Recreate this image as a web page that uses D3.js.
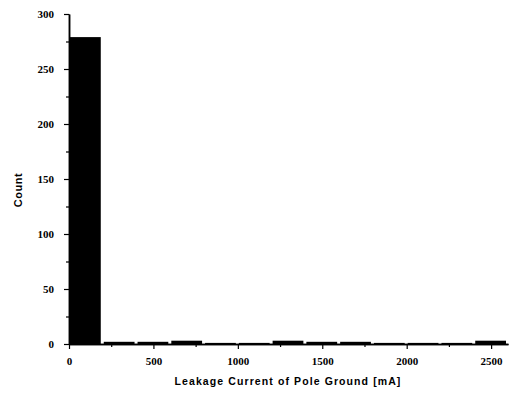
<!DOCTYPE html>
<html>
<head>
<meta charset="utf-8">
<script src="https://cdn.jsdelivr.net/npm/d3@7"></script>
<style>
  body { margin: 0; background: #fff; }
  svg { display: block; }
</style>
</head>
<body>
<svg width="513" height="396"></svg>
<script>
// histogram bins, 200 mA wide
var binStart = [0, 200, 400, 600, 800, 1000, 1200, 1400, 1600, 1800, 2000, 2200, 2400];
var counts = [279, 2, 2, 3, 1, 1, 3, 2, 2, 1, 1, 1, 3];
var binWidth = 200;
var xTicks = [0, 500, 1000, 1500, 2000, 2500];
var yTicks = [0, 50, 100, 150, 200, 250, 300];

var margin = {top: 14, left: 69, right: 5, bottom: 52};
var width = 513;
var height = 396;

var svg = d3.select('svg');

var xScale = d3.scaleLinear()
  .domain([0, 2600])
  .range([margin.left, width - margin.right]);

var yScale = d3.scaleLinear()
  .domain([0, 300])
  .range([height - margin.bottom, margin.top]);

// bars
svg.selectAll('rect.bar')
  .data(binStart)
  .enter()
  .append('rect')
  .attr('class', 'bar')
  .attr('x', d => xScale(d) + 1)
  .attr('y', (d, i) => yScale(counts[i]))
  .attr('width', d => xScale(d + binWidth) - xScale(d) - 3)
  .attr('height', (d, i) => yScale(0) - yScale(counts[i]))
  .attr('fill', '#000');

// minor ticks
var xMinor = d3.range(250, 2600, 500);
var yMinor = d3.range(25, 300, 50);

svg.append('g')
  .attr('transform', 'translate(0,' + yScale(0) + ')')
  .call(d3.axisBottom(xScale).tickValues(xTicks).tickFormat(d3.format('d'))
    .tickSize(5).tickPadding(8).tickSizeOuter(0));

svg.append('g')
  .attr('transform', 'translate(0,' + yScale(0) + ')')
  .call(d3.axisBottom(xScale).tickValues(xMinor).tickSize(3).tickFormat('').tickSizeOuter(0));

svg.append('g')
  .attr('transform', 'translate(' + margin.left + ',0)')
  .call(d3.axisLeft(yScale).tickValues(yTicks).tickFormat(d3.format('d'))
    .tickSize(5).tickPadding(10).tickSizeOuter(0));

svg.append('g')
  .attr('transform', 'translate(' + margin.left + ',0)')
  .call(d3.axisLeft(yScale).tickValues(yMinor).tickSize(3).tickFormat('').tickSizeOuter(0));

svg.selectAll('.domain').attr('stroke', '#000').attr('stroke-width', 1.5);
svg.selectAll('.tick line').attr('stroke', '#000').attr('stroke-width', 1.2);
svg.selectAll('.tick text')
  .attr('font-family', 'Liberation Serif')
  .attr('font-size', 11)
  .attr('font-weight', 'bold')
  .attr('fill', '#000');

// axis titles
svg.append('text')
  .attr('x', 288)
  .attr('y', 385)
  .attr('text-anchor', 'middle')
  .attr('font-family', 'Liberation Sans')
  .attr('font-weight', 'bold')
  .attr('font-size', 10.5)
  .attr('letter-spacing', 1.1)
  .text('Leakage Current of Pole Ground [mA]');

svg.append('text')
  .attr('transform', 'translate(22,190) rotate(-90)')
  .attr('text-anchor', 'middle')
  .attr('font-family', 'Liberation Sans')
  .attr('font-weight', 'bold')
  .attr('font-size', 11)
  .attr('letter-spacing', 0.5)
  .text('Count');
</script>
</body>
</html>
